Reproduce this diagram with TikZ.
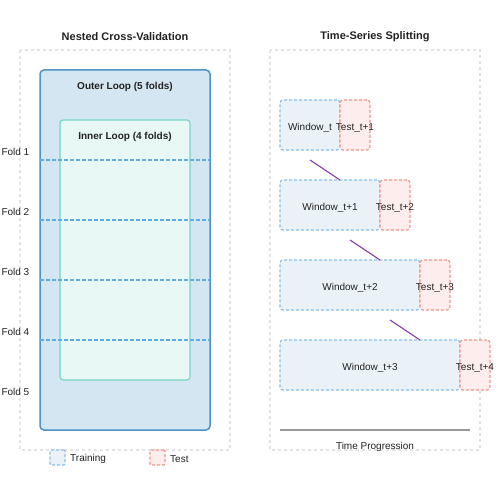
\documentclass[tikz,border=0pt]{standalone}
\usepackage{fontspec}
\setmainfont{Liberation Sans}
\usetikzlibrary{calc}
\definecolor{panelc}{HTML}{E3E3E3}
\definecolor{outerfill}{HTML}{D4E6F1}
\definecolor{outerdraw}{HTML}{4E94C4}
\definecolor{innerfill}{HTML}{E8F8F5}
\definecolor{innerdraw}{HTML}{76D7C4}
\definecolor{folddraw}{HTML}{5DADE2}
\definecolor{trainfill}{HTML}{EAF2F8}
\definecolor{traindraw}{HTML}{85C1E9}
\definecolor{testfill}{HTML}{FDEDEC}
\definecolor{testdraw}{HTML}{F1948A}
\definecolor{arrowc}{HTML}{8E44AD}
\definecolor{txt}{HTML}{222222}
\definecolor{axisc}{HTML}{999999}
\begin{document}
\begin{tikzpicture}[x=1pt,y=-1pt,
  panel/.style={draw=panelc,line width=1.2pt,dash pattern=on 3pt off 3pt},
  ttl/.style={font=\fontsize{11}{13}\selectfont\bfseries,text=txt},
  boxttl/.style={font=\fontsize{10}{12}\selectfont\bfseries,text=txt},
  lbl/.style={font=\fontsize{10}{12}\selectfont,text=txt,inner sep=0pt},
  shapebox/.style={anchor=north west,inner sep=0pt,outer sep=0pt,rounded corners=3pt},
  trainbox/.style={shapebox,fill=trainfill,draw=traindraw,line width=1.2pt,dash pattern=on 3pt off 2pt},
  testbox/.style={shapebox,fill=testfill,draw=testdraw,line width=1.2pt,dash pattern=on 3pt off 2pt},
  foldline/.style={draw=folddraw,line width=1.2pt,dash pattern=on 4pt off 2pt},
  link/.style={draw=arrowc,line width=1.2pt}
]
\useasboundingbox[fill=white] (0,0) rectangle (500,500);
% panels
\draw[panel] (20,50) rectangle (230,450);
\draw[panel] (270,50) rectangle (480,450);
\node[ttl] (t1) at (125,37) {Nested Cross-Validation};
\node[ttl] (t2) at (375,37) {Time-Series Splitting};
% left: nested CV
\node[shapebox,fill=outerfill,draw=outerdraw,line width=1.5pt,minimum width=170pt,minimum height=360pt,rounded corners=4pt] (outer) at (40,70) {};
\node[boxttl] (outerl) at (125,87) {Outer Loop (5 folds)};
\node[shapebox,fill=innerfill,draw=innerdraw,line width=1.2pt,minimum width=130pt,minimum height=260pt] (inner) at (60,120) {};
\node[boxttl] (innerl) at (125,137) {Inner Loop (4 folds)};
\foreach \i/\y in {1/160,2/220,3/280,4/340}{
  \coordinate (fa\i) at (40,\y);
  \coordinate (fb\i) at (210,\y);
  \draw[foldline] (fa\i) -- (fb\i);
}
\foreach \i/\y in {1/152,2/212,3/272,4/332,5/392}{
  \node[lbl,anchor=east] (fold\i) at (29.5,\y) {Fold \i};
}
% right: time series
\node[trainbox,minimum width=60pt,minimum height=50pt] (w0) at (280,100) {};
\node[testbox,minimum width=30pt,minimum height=50pt] (s0) at (340,100) {};
\node[trainbox,minimum width=100pt,minimum height=50pt] (w1) at (280,180) {};
\node[testbox,minimum width=30pt,minimum height=50pt] (s1) at (380,180) {};
\node[trainbox,minimum width=140pt,minimum height=50pt] (w2) at (280,260) {};
\node[testbox,minimum width=30pt,minimum height=50pt] (s2) at (420,260) {};
\node[trainbox,minimum width=180pt,minimum height=50pt] (w3) at (280,340) {};
\node[testbox,minimum width=30pt,minimum height=50pt] (s3) at (460,340) {};
\node[lbl] (w0l) at ($(w0.center)+(0,3)$) {Window\_t};
\node[lbl] (s0l) at ($(s0.center)+(0,3)$) {Test\_t+1};
\node[lbl] (w1l) at ($(w1.center)+(0,3)$) {Window\_t+1};
\node[lbl] (s1l) at ($(s1.center)+(0,3)$) {Test\_t+2};
\node[lbl] (w2l) at ($(w2.center)+(0,3)$) {Window\_t+2};
\node[lbl] (s2l) at ($(s2.center)+(0,3)$) {Test\_t+3};
\node[lbl] (w3l) at ($(w3.center)+(0,3)$) {Window\_t+3};
\node[lbl] (s3l) at ($(s3.center)+(0,3)$) {Test\_t+4};
\draw[link] ($(w0.south)+(0,10)$) -- (s0.north west |- w1.north);
\draw[link] ($(w1.south)+(20,10)$) -- (s1.north west |- w2.north);
\draw[link] ($(w2.south)+(40,10)$) -- (s2.north west |- w3.north);
% time axis
\coordinate (ta) at (280,430);
\coordinate (tb) at (470,430);
\draw[draw=axisc,line width=1.5pt] (ta) -- (tb);
\node[lbl] (tp) at (375,447) {Time Progression};
% legend
\node[trainbox,anchor=north west,minimum width=15pt,minimum height=15pt,rounded corners=1pt] (legtr) at (50,450) {};
\node[lbl,anchor=west] (legtrl) at (70,459) {Training};
\node[testbox,anchor=north west,minimum width=15pt,minimum height=15pt,rounded corners=1pt] (legte) at (150,450) {};
\node[lbl,anchor=west] (legtel) at (170,459) {Test};
\end{tikzpicture}
\end{document}
